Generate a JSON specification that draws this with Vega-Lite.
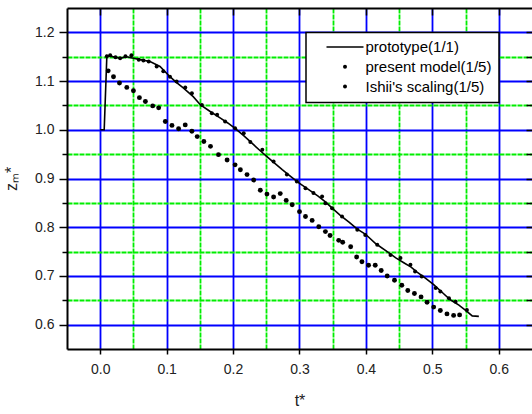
{
  "$schema": "https://vega.github.io/schema/vega-lite/v6.json",
  "width": 465,
  "height": 341,
  "autosize": "none",
  "padding": {"left": 67, "top": 8, "right": 0, "bottom": 65},
  "background": "white",
  "config": {"view": {"stroke": null}, "font": "Liberation Sans"},
  "datasets": {
    "prototype": [
      {"t": 0, "z": 1.0, "series": "prototype(1/1)"},
      {"t": 0.006, "z": 1.0, "series": "prototype(1/1)"},
      {"t": 0.010, "z": 1.152, "series": "prototype(1/1)"},
      {"t": 0.020, "z": 1.150, "series": "prototype(1/1)"},
      {"t": 0.030, "z": 1.147, "series": "prototype(1/1)"},
      {"t": 0.040, "z": 1.150, "series": "prototype(1/1)"},
      {"t": 0.050, "z": 1.147, "series": "prototype(1/1)"},
      {"t": 0.060, "z": 1.144, "series": "prototype(1/1)"},
      {"t": 0.075, "z": 1.140, "series": "prototype(1/1)"},
      {"t": 0.090, "z": 1.130, "series": "prototype(1/1)"},
      {"t": 0.105, "z": 1.109, "series": "prototype(1/1)"},
      {"t": 0.115, "z": 1.097, "series": "prototype(1/1)"},
      {"t": 0.125, "z": 1.086, "series": "prototype(1/1)"},
      {"t": 0.140, "z": 1.068, "series": "prototype(1/1)"},
      {"t": 0.151, "z": 1.051, "series": "prototype(1/1)"},
      {"t": 0.165, "z": 1.038, "series": "prototype(1/1)"},
      {"t": 0.181, "z": 1.024, "series": "prototype(1/1)"},
      {"t": 0.192, "z": 1.014, "series": "prototype(1/1)"},
      {"t": 0.203, "z": 1.003, "series": "prototype(1/1)"},
      {"t": 0.216, "z": 0.988, "series": "prototype(1/1)"},
      {"t": 0.228, "z": 0.973, "series": "prototype(1/1)"},
      {"t": 0.240, "z": 0.958, "series": "prototype(1/1)"},
      {"t": 0.251, "z": 0.945, "series": "prototype(1/1)"},
      {"t": 0.262, "z": 0.932, "series": "prototype(1/1)"},
      {"t": 0.274, "z": 0.918, "series": "prototype(1/1)"},
      {"t": 0.287, "z": 0.904, "series": "prototype(1/1)"},
      {"t": 0.299, "z": 0.891, "series": "prototype(1/1)"},
      {"t": 0.316, "z": 0.875, "series": "prototype(1/1)"},
      {"t": 0.328, "z": 0.864, "series": "prototype(1/1)"},
      {"t": 0.339, "z": 0.852, "series": "prototype(1/1)"},
      {"t": 0.350, "z": 0.838, "series": "prototype(1/1)"},
      {"t": 0.361, "z": 0.825, "series": "prototype(1/1)"},
      {"t": 0.375, "z": 0.810, "series": "prototype(1/1)"},
      {"t": 0.387, "z": 0.796, "series": "prototype(1/1)"},
      {"t": 0.399, "z": 0.786, "series": "prototype(1/1)"},
      {"t": 0.415, "z": 0.766, "series": "prototype(1/1)"},
      {"t": 0.432, "z": 0.750, "series": "prototype(1/1)"},
      {"t": 0.445, "z": 0.737, "series": "prototype(1/1)"},
      {"t": 0.457, "z": 0.727, "series": "prototype(1/1)"},
      {"t": 0.468, "z": 0.718, "series": "prototype(1/1)"},
      {"t": 0.477, "z": 0.708, "series": "prototype(1/1)"},
      {"t": 0.490, "z": 0.695, "series": "prototype(1/1)"},
      {"t": 0.502, "z": 0.682, "series": "prototype(1/1)"},
      {"t": 0.515, "z": 0.666, "series": "prototype(1/1)"},
      {"t": 0.527, "z": 0.651, "series": "prototype(1/1)"},
      {"t": 0.540, "z": 0.640, "series": "prototype(1/1)"},
      {"t": 0.552, "z": 0.627, "series": "prototype(1/1)"},
      {"t": 0.560, "z": 0.618, "series": "prototype(1/1)"},
      {"t": 0.570, "z": 0.617, "series": "prototype(1/1)"}
    ],
    "present": [
      {"t": 0.010, "z": 1.151, "series": "present model(1/5)"},
      {"t": 0.015, "z": 1.153, "series": "present model(1/5)"},
      {"t": 0.023, "z": 1.149, "series": "present model(1/5)"},
      {"t": 0.030, "z": 1.147, "series": "present model(1/5)"},
      {"t": 0.038, "z": 1.151, "series": "present model(1/5)"},
      {"t": 0.047, "z": 1.153, "series": "present model(1/5)"},
      {"t": 0.058, "z": 1.144, "series": "present model(1/5)"},
      {"t": 0.065, "z": 1.142, "series": "present model(1/5)"},
      {"t": 0.073, "z": 1.140, "series": "present model(1/5)"},
      {"t": 0.085, "z": 1.130, "series": "present model(1/5)"},
      {"t": 0.095, "z": 1.120, "series": "present model(1/5)"},
      {"t": 0.105, "z": 1.109, "series": "present model(1/5)"},
      {"t": 0.115, "z": 1.099, "series": "present model(1/5)"},
      {"t": 0.128, "z": 1.087, "series": "present model(1/5)"},
      {"t": 0.138, "z": 1.075, "series": "present model(1/5)"},
      {"t": 0.153, "z": 1.051, "series": "present model(1/5)"},
      {"t": 0.168, "z": 1.034, "series": "present model(1/5)"},
      {"t": 0.176, "z": 1.031, "series": "present model(1/5)"},
      {"t": 0.188, "z": 1.017, "series": "present model(1/5)"},
      {"t": 0.203, "z": 1.003, "series": "present model(1/5)"},
      {"t": 0.216, "z": 0.993, "series": "present model(1/5)"},
      {"t": 0.226, "z": 0.975, "series": "present model(1/5)"},
      {"t": 0.244, "z": 0.959, "series": "present model(1/5)"},
      {"t": 0.261, "z": 0.935, "series": "present model(1/5)"},
      {"t": 0.281, "z": 0.908, "series": "present model(1/5)"},
      {"t": 0.296, "z": 0.894, "series": "present model(1/5)"},
      {"t": 0.309, "z": 0.880, "series": "present model(1/5)"},
      {"t": 0.321, "z": 0.870, "series": "present model(1/5)"},
      {"t": 0.334, "z": 0.863, "series": "present model(1/5)"},
      {"t": 0.339, "z": 0.849, "series": "present model(1/5)"},
      {"t": 0.349, "z": 0.839, "series": "present model(1/5)"},
      {"t": 0.364, "z": 0.822, "series": "present model(1/5)"},
      {"t": 0.387, "z": 0.795, "series": "present model(1/5)"},
      {"t": 0.399, "z": 0.784, "series": "present model(1/5)"},
      {"t": 0.417, "z": 0.764, "series": "present model(1/5)"},
      {"t": 0.437, "z": 0.743, "series": "present model(1/5)"},
      {"t": 0.452, "z": 0.737, "series": "present model(1/5)"},
      {"t": 0.467, "z": 0.723, "series": "present model(1/5)"},
      {"t": 0.474, "z": 0.709, "series": "present model(1/5)"},
      {"t": 0.484, "z": 0.699, "series": "present model(1/5)"},
      {"t": 0.505, "z": 0.675, "series": "present model(1/5)"},
      {"t": 0.512, "z": 0.668, "series": "present model(1/5)"},
      {"t": 0.525, "z": 0.654, "series": "present model(1/5)"},
      {"t": 0.535, "z": 0.647, "series": "present model(1/5)"},
      {"t": 0.552, "z": 0.630, "series": "present model(1/5)"}
    ],
    "ishii": [
      {"t": 0.012, "z": 1.121, "series": "Ishii's scaling(1/5)"},
      {"t": 0.020, "z": 1.109, "series": "Ishii's scaling(1/5)"},
      {"t": 0.029, "z": 1.096, "series": "Ishii's scaling(1/5)"},
      {"t": 0.040, "z": 1.087, "series": "Ishii's scaling(1/5)"},
      {"t": 0.050, "z": 1.080, "series": "Ishii's scaling(1/5)"},
      {"t": 0.059, "z": 1.066, "series": "Ishii's scaling(1/5)"},
      {"t": 0.068, "z": 1.058, "series": "Ishii's scaling(1/5)"},
      {"t": 0.079, "z": 1.049, "series": "Ishii's scaling(1/5)"},
      {"t": 0.088, "z": 1.045, "series": "Ishii's scaling(1/5)"},
      {"t": 0.098, "z": 1.017, "series": "Ishii's scaling(1/5)"},
      {"t": 0.108, "z": 1.009, "series": "Ishii's scaling(1/5)"},
      {"t": 0.118, "z": 1.002, "series": "Ishii's scaling(1/5)"},
      {"t": 0.128, "z": 1.010, "series": "Ishii's scaling(1/5)"},
      {"t": 0.138, "z": 0.997, "series": "Ishii's scaling(1/5)"},
      {"t": 0.146, "z": 0.986, "series": "Ishii's scaling(1/5)"},
      {"t": 0.156, "z": 0.976, "series": "Ishii's scaling(1/5)"},
      {"t": 0.166, "z": 0.966, "series": "Ishii's scaling(1/5)"},
      {"t": 0.178, "z": 0.949, "series": "Ishii's scaling(1/5)"},
      {"t": 0.191, "z": 0.938, "series": "Ishii's scaling(1/5)"},
      {"t": 0.203, "z": 0.928, "series": "Ishii's scaling(1/5)"},
      {"t": 0.211, "z": 0.918, "series": "Ishii's scaling(1/5)"},
      {"t": 0.221, "z": 0.908, "series": "Ishii's scaling(1/5)"},
      {"t": 0.231, "z": 0.897, "series": "Ishii's scaling(1/5)"},
      {"t": 0.241, "z": 0.876, "series": "Ishii's scaling(1/5)"},
      {"t": 0.251, "z": 0.868, "series": "Ishii's scaling(1/5)"},
      {"t": 0.261, "z": 0.862, "series": "Ishii's scaling(1/5)"},
      {"t": 0.271, "z": 0.869, "series": "Ishii's scaling(1/5)"},
      {"t": 0.280, "z": 0.855, "series": "Ishii's scaling(1/5)"},
      {"t": 0.289, "z": 0.846, "series": "Ishii's scaling(1/5)"},
      {"t": 0.300, "z": 0.832, "series": "Ishii's scaling(1/5)"},
      {"t": 0.309, "z": 0.822, "series": "Ishii's scaling(1/5)"},
      {"t": 0.319, "z": 0.814, "series": "Ishii's scaling(1/5)"},
      {"t": 0.329, "z": 0.801, "series": "Ishii's scaling(1/5)"},
      {"t": 0.339, "z": 0.791, "series": "Ishii's scaling(1/5)"},
      {"t": 0.346, "z": 0.783, "series": "Ishii's scaling(1/5)"},
      {"t": 0.359, "z": 0.773, "series": "Ishii's scaling(1/5)"},
      {"t": 0.365, "z": 0.769, "series": "Ishii's scaling(1/5)"},
      {"t": 0.377, "z": 0.760, "series": "Ishii's scaling(1/5)"},
      {"t": 0.386, "z": 0.739, "series": "Ishii's scaling(1/5)"},
      {"t": 0.394, "z": 0.729, "series": "Ishii's scaling(1/5)"},
      {"t": 0.404, "z": 0.722, "series": "Ishii's scaling(1/5)"},
      {"t": 0.414, "z": 0.722, "series": "Ishii's scaling(1/5)"},
      {"t": 0.423, "z": 0.711, "series": "Ishii's scaling(1/5)"},
      {"t": 0.432, "z": 0.700, "series": "Ishii's scaling(1/5)"},
      {"t": 0.443, "z": 0.691, "series": "Ishii's scaling(1/5)"},
      {"t": 0.454, "z": 0.681, "series": "Ishii's scaling(1/5)"},
      {"t": 0.463, "z": 0.670, "series": "Ishii's scaling(1/5)"},
      {"t": 0.473, "z": 0.664, "series": "Ishii's scaling(1/5)"},
      {"t": 0.483, "z": 0.657, "series": "Ishii's scaling(1/5)"},
      {"t": 0.492, "z": 0.646, "series": "Ishii's scaling(1/5)"},
      {"t": 0.502, "z": 0.636, "series": "Ishii's scaling(1/5)"},
      {"t": 0.512, "z": 0.629, "series": "Ishii's scaling(1/5)"},
      {"t": 0.522, "z": 0.622, "series": "Ishii's scaling(1/5)"},
      {"t": 0.532, "z": 0.619, "series": "Ishii's scaling(1/5)"},
      {"t": 0.541, "z": 0.620, "series": "Ishii's scaling(1/5)"}
    ]
  },
  "layer": [
    {
      "data": {"name": "prototype"},
      "mark": {"type": "line", "strokeWidth": 1.6},
      "encoding": {
        "x": {
          "field": "t", "type": "quantitative",
          "scale": {"domain": [-0.05, 0.65], "nice": false, "zero": false},
          "axis": {
            "orient": "bottom",
            "values": [0, 0.05, 0.1, 0.15, 0.2, 0.25, 0.3, 0.35, 0.4, 0.45, 0.5, 0.55, 0.6],
            "title": "t*", "titleFont": "Liberation Sans", "titleFontSize": 16, "titleFontWeight": "normal", "titleColor": "#222", "titlePadding": 16,
            "labelExpr": "abs(round(datum.value*20))%2==1 ? '' : format(datum.value,'.1f')",
            "labelFont": "Liberation Sans", "labelFontSize": 14, "labelColor": "#222", "labelPadding": 8, "labelFlush": false, "labelOverlap": false,
            "domain": true, "domainColor": "black", "domainWidth": 2,
            "ticks": true, "tickColor": "black", "tickWidth": 1.5, "tickSize": 5,
            "tickOpacity": {"condition": {"test": "abs(round(datum.value*20))%2==1", "value": 0}, "value": 1},
            "grid": true,
            "gridColor": {"condition": {"test": "abs(round(datum.value*20))%2==1", "value": "#00ee00"}, "value": "#0000ff"},
            "gridDash": {"condition": {"test": "abs(round(datum.value*20))%2==1", "value": [5, 1]}, "value": []},
            "gridWidth": 1.8, "gridOpacity": 1
          }
        },
        "y": {
          "field": "z", "type": "quantitative",
          "scale": {"domain": [0.55, 1.25], "nice": false, "zero": false},
          "axis": {
            "orient": "left",
            "values": [0.6, 0.65, 0.7, 0.75, 0.8, 0.85, 0.9, 0.95, 1.0, 1.05, 1.1, 1.15, 1.2],
            "title": "zₘ*", "titleFont": "Liberation Sans", "titleFontSize": 16, "titleFontWeight": "normal", "titleColor": "#222", "titlePadding": 15,
            "labelExpr": "abs(round(datum.value*20))%2==1 ? '' : format(datum.value,'.1f')",
            "labelFont": "Liberation Sans", "labelFontSize": 14, "labelColor": "#222", "labelPadding": 5, "labelOverlap": false, "labelFlush": false,
            "domain": true, "domainColor": "black", "domainWidth": 2,
            "ticks": true, "tickColor": "black", "tickWidth": 1.5,
            "tickSize": {"condition": {"test": "abs(round(datum.value*20))%2==1", "value": 5}, "value": 8},
            "grid": true,
            "gridColor": {"condition": {"test": "abs(round(datum.value*20))%2==1", "value": "#00ee00"}, "value": "#0000ff"},
            "gridDash": {"condition": {"test": "abs(round(datum.value*20))%2==1", "value": [5, 1]}, "value": []},
            "gridWidth": 1.8, "gridOpacity": 1
          }
        },
        "color": {
          "field": "series", "type": "nominal",
          "scale": {"domain": ["prototype(1/1)", "present model(1/5)", "Ishii's scaling(1/5)"], "range": ["black", "black", "black"]},
          "legend": {
            "orient": "none", "legendX": 239, "legendY": 24.5, "title": null, "direction": "vertical",
            "strokeColor": "black", "fillColor": "white", "padding": 7,
            "labelFont": "Liberation Sans", "labelFontSize": 15, "labelColor": "black",
            "symbolSize": 30, "symbolOffset": 24.5, "labelOffset": 13, "rowPadding": 3.8,
            "labelExpr": "datum.label + '\u00a0\u00a0\u00a0'",
            "encode": {
              "legend": {"update": {"strokeWidth": {"value": 1.5}}},
              "symbols": {"update": {
                "shape": {"signal": "datum.value === 'prototype(1/1)' ? 'stroke' : 'circle'"},
                "size": {"signal": "datum.value === 'prototype(1/1)' ? 1369 : 16"},
                "fill": {"signal": "datum.value === 'prototype(1/1)' ? 'transparent' : 'black'"},
                "stroke": {"value": "black"},
                "strokeWidth": {"signal": "datum.value === 'prototype(1/1)' ? 1.6 : 0"},
                "opacity": {"value": 1}
              }}
            }
          }
        }
      }
    },
    {
      "data": {"name": "present"},
      "mark": {"type": "point", "filled": true, "size": 16, "opacity": 1},
      "encoding": {
        "x": {
          "field": "t", "type": "quantitative",
          "axis": {
            "orient": "top", "values": [0, 0.1, 0.2, 0.3, 0.4, 0.5, 0.6],
            "labels": false, "grid": false, "title": null,
            "domain": true, "domainColor": "black", "domainWidth": 2,
            "ticks": true, "tickColor": "black", "tickWidth": 1.5, "tickSize": -7
          }
        },
        "y": {
          "field": "z", "type": "quantitative",
          "axis": {
            "orient": "right",
            "values": [0.6, 0.65, 0.7, 0.75, 0.8, 0.85, 0.9, 0.95, 1.0, 1.05, 1.1, 1.15, 1.2],
            "labels": false, "grid": false, "domain": false, "title": null,
            "ticks": true, "tickColor": "black", "tickWidth": 1.5, "tickSize": -6
          }
        },
        "color": {"field": "series", "type": "nominal"}
      }
    },
    {
      "data": {"name": "ishii"},
      "mark": {"type": "point", "filled": true, "size": 24, "opacity": 1},
      "encoding": {
        "x": {"field": "t", "type": "quantitative", "axis": null},
        "y": {"field": "z", "type": "quantitative", "axis": null},
        "color": {"field": "series", "type": "nominal"}
      }
    }
  ],
  "resolve": {"axis": {"x": "independent", "y": "independent"}}
}
